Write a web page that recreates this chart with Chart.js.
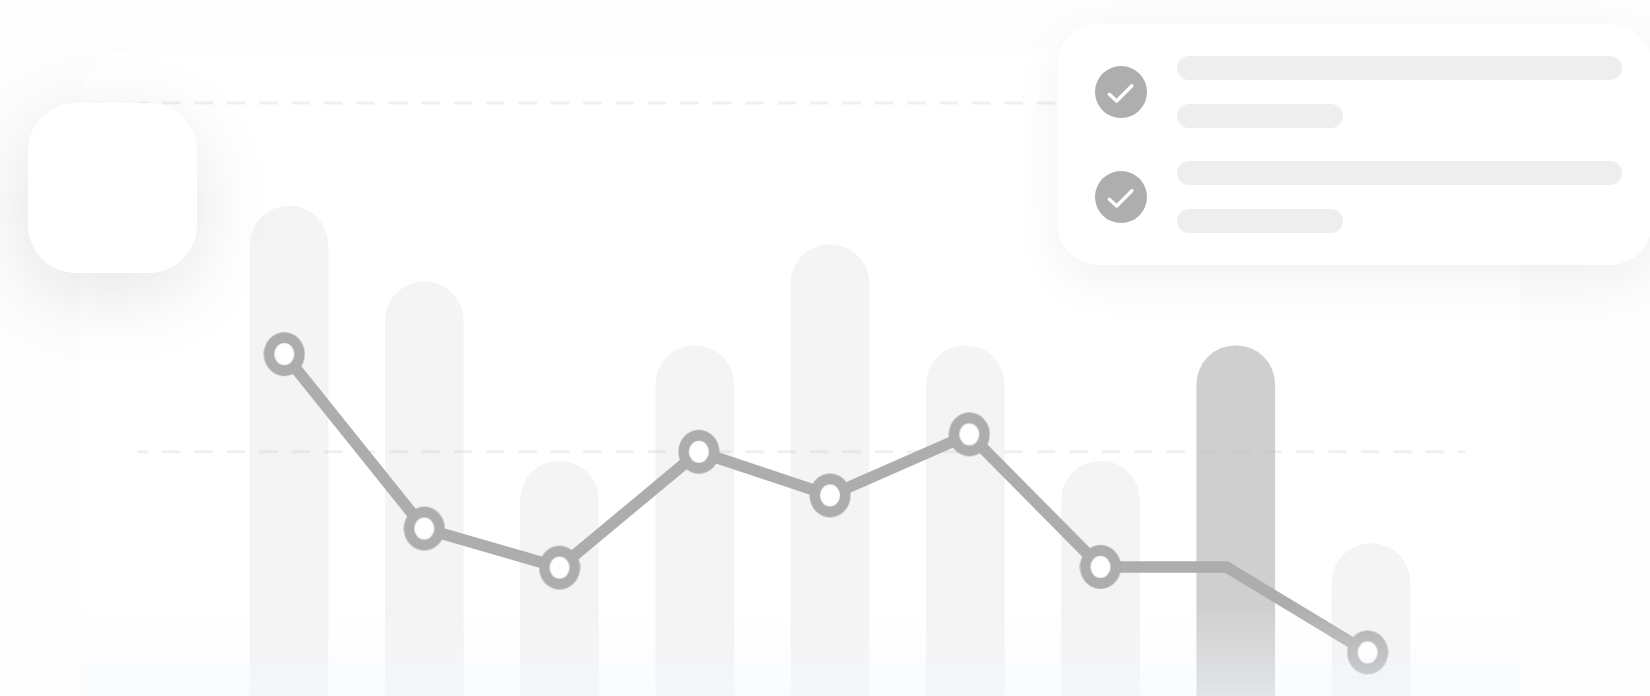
<!DOCTYPE html>
<html>
<head>
<meta charset="utf-8">
<style>
  html, body { margin: 0; padding: 0; background: #fdfdfd; overflow: hidden; }
  #stage { position: relative; width: 1650px; height: 696px; overflow: hidden; }
  #panel { position: absolute; left: 81px; top: 50px; width: 1439px; height: 700px; background: #fff; border-radius: 50px; }
  #chartBox { position: absolute; left: 0; top: 0; width: 1650px; height: 696px; }
  #fade { position: absolute; left: 81px; top: 603px; width: 1439px; height: 93px; background: linear-gradient(to bottom, rgba(245,248,252,0), rgba(245,248,252,0.5)); }
  #tile { position: absolute; left: 28px; top: 103px; width: 169px; height: 170px; background: #fff; border-radius: 48px; box-shadow: 0 20px 80px rgba(0,0,0,0.10); }
  #card { position: absolute; left: 1057px; top: 24px; width: 595px; height: 241px; background: #fff; border-radius: 42px; box-shadow: 0 16px 50px rgba(0,0,0,0.055); }
  .row { position: absolute; left: 120px; height: 24px; background: #eee; border-radius: 12px; }
  .long { width: 445px; }
  .short { width: 166px; }
  .icon { position: absolute; left: 38px; width: 52px; height: 52px; }
</style>
</head>
<body>
<div id="stage">
  <div id="panel"></div>
  <div id="chartBox"><canvas id="grafik"></canvas></div>
  <div id="fade"></div>
  <div id="tile"></div>
  <div id="card">
    <svg class="icon" style="top:42px" viewBox="0 0 52 52"><circle cx="26" cy="26" r="26" fill="#aeaeae"/><path d="M14.3 28.3l7.4 6.7 15.2-15.3" fill="none" stroke="#fff" stroke-width="3.4" stroke-linecap="round" stroke-linejoin="round"/></svg>
    <div class="row long" style="top:32px"></div>
    <div class="row short" style="top:80px"></div>
    <svg class="icon" style="top:147px" viewBox="0 0 52 52"><circle cx="26" cy="26" r="26" fill="#aeaeae"/><path d="M14.3 28.3l7.4 6.7 15.2-15.3" fill="none" stroke="#fff" stroke-width="3.4" stroke-linecap="round" stroke-linejoin="round"/></svg>
    <div class="row long" style="top:137px"></div>
    <div class="row short" style="top:185px"></div>
  </div>
</div>
<script src="https://cdn.jsdelivr.net/npm/chart.js@4"></script>
<script>
// nilai
const barX = [1, 2, 3, 4, 5, 6, 7, 8, 9];
const barValues = [170.4, 148.7, 97.3, 130.4, 159.4, 130.4, 97.3, 130.4, 73.7];
const lineX = [0.965, 2, 3, 4.03, 5, 6.03, 7, 7.93, 8.975];
const lineValues = [128, 78, 66.8, 100, 87.5, 105, 67, 67, 42.5];
const markerShown = [1, 1, 1, 1, 1, 1, 1, 0, 1];
const gridValues = [100, 200];
const gridX = [-0.12, 9.695];

// penanda bulat sedikit lonjong
function buatPenanda() {
  const c = document.createElement("canvas");
  c.width = 42;
  c.height = 46;
  const g = c.getContext("2d");
  g.fillStyle = "#adadad";
  g.beginPath();
  g.ellipse(21, 23, 20.5, 22, 0, 0, Math.PI * 2);
  g.fill();
  g.fillStyle = "#fff";
  g.beginPath();
  g.ellipse(21, 23, 10, 11, 0, 0, Math.PI * 2);
  g.fill();
  return c;
}
const penanda = buatPenanda();

function garisBantu(value) {
  return {
    type: "line",
    order: 2,
    data: gridX.map((x) => ({ x: x, y: value })),
    borderColor: "rgba(180, 180, 180, 0.2)",
    borderWidth: 3,
    borderDash: [18.6, 13.8],
    borderDashOffset: 8,
    pointRadius: 0,
  };
}

const ctx = document.getElementById("grafik").getContext("2d");
new Chart(ctx, {
  data: {
    datasets: [
      {
        type: "line",
        order: 1,
        data: lineX.map((x, i) => ({ x: x, y: lineValues[i] })),
        borderColor: "#adadad",
        borderWidth: 11.5,
        borderJoinStyle: "miter",
        tension: 0,
        pointStyle: markerShown.map((m) => (m ? penanda : false)),
        pointRadius: markerShown.map((m) => (m ? 20 : 0)),
      },
      garisBantu(gridValues[0]),
      garisBantu(gridValues[1]),
      {
        type: "bar",
        order: 3,
        data: barX.map((x, i) => ({ x: x, y: barValues[i] })),
        backgroundColor: barX.map((x) => (x === 8 ? "#cfcfcf" : "#f4f4f4")),
        barThickness: 78,
        borderRadius: { topLeft: 39, topRight: 39 },
        borderSkipped: false,
      },
    ],
  },
  options: {
    responsive: true,
    maintainAspectRatio: false,
    animation: false,
    layout: { padding: 0, autoPadding: false },
    plugins: { legend: { display: false }, tooltip: { enabled: false } },
    scales: {
      x: { type: "linear", display: false, min: -1.137, max: 11.063, offset: false },
      y: { display: false, min: 30, max: 229.5 },
    },
  },
});
</script>
</body>
</html>
